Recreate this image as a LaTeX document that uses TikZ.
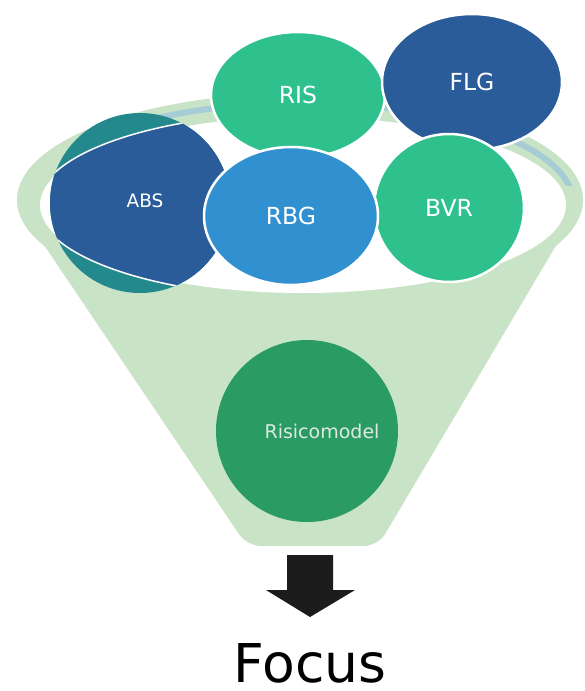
\documentclass[tikz,border=0pt]{standalone}
\usepackage{fontspec}
\setmainfont{DejaVu Sans}
\newfontfamily\lblfont{DejaVu Sans}
\usetikzlibrary{shapes.geometric}
\definecolor{funnel}{HTML}{C9E3C6}
\definecolor{rimblue}{HTML}{A6CCD6}
\definecolor{mint}{HTML}{2EC18E}
\definecolor{navy}{HTML}{2A5C99}
\definecolor{skyb}{HTML}{3190CF}
\definecolor{tealc}{HTML}{23898C}
\definecolor{modelg}{HTML}{2A9B63}
\definecolor{arrowk}{HTML}{1C1C1C}
\definecolor{modeltext}{HTML}{DCEBE1}
\begin{document}
\begin{tikzpicture}[x=1pt,y=-1pt,
  ball/.style={ellipse, draw=white, line width=2.5pt, inner sep=0pt, text=white,
    font=\lblfont\fontsize{23.5}{26}\selectfont},
  lbl/.style={inner sep=0pt, text=white}]
\useasboundingbox (0,0) rectangle (585,691);
\fill[white] (0,0) rectangle (585,691);
% funnel body
\fill[funnel, rounded corners=14pt] (17,205) -- (247,546) -- (378,546) -- (583,200) -- cycle;
\fill[funnel] (300,200) ellipse [x radius=283pt, y radius=107pt];
% bluish inner rim tint
\begin{scope}
  \clip (150,0) rectangle (585,185);
  \draw[rimblue, line width=6pt] (301,203) ellipse [x radius=272pt, y radius=100pt];
\end{scope}
% bowl opening
\fill[white] (303,205) ellipse [x radius=263pt, y radius=88pt];
% ABS
\fill[tealc] (140,203) circle [radius=90pt];
\begin{scope}
  \clip (140,203) circle [radius=90pt];
  \fill[navy] (303,205) ellipse [x radius=265pt, y radius=92pt];
  \draw[white, line width=1.5pt] (303,205) ellipse [x radius=265pt, y radius=92pt];
\end{scope}
\node[lbl, font=\lblfont\fontsize{18.5}{20}\selectfont] (abs) at (145,201) {ABS};
% balls
\node[ball, fill=mint, minimum width=174pt, minimum height=126pt] (ris) at (298,95) {RIS};
\node[ball, fill=navy, minimum width=180pt, minimum height=136pt] (flg) at (472,82) {FLG};
\node[ball, fill=mint, minimum width=150pt, minimum height=148pt] (bvr) at (449,208) {BVR};
\node[ball, fill=skyb, minimum width=174pt, minimum height=138pt] (rbg) at (291,216) {RBG};
% risicomodel
\node[circle, fill=modelg, minimum size=182pt, inner sep=0pt] (model) at (307,431) {};
\node[inner sep=0pt, text=modeltext, font=\lblfont\fontsize{19}{21}\selectfont] (modeltxt) at (322,431) {Risicomodel};
% block arrow
\fill[arrowk] (287,555) -- (333,555) -- (333,590) -- (355,590) -- (310,617) -- (266,590) -- (287,590) -- cycle;
% focus
\node[anchor=base, inner sep=0pt, font=\fontsize{53.5}{60}\selectfont] (focus) at (310,682) {Focus};
\end{tikzpicture}
\end{document}
